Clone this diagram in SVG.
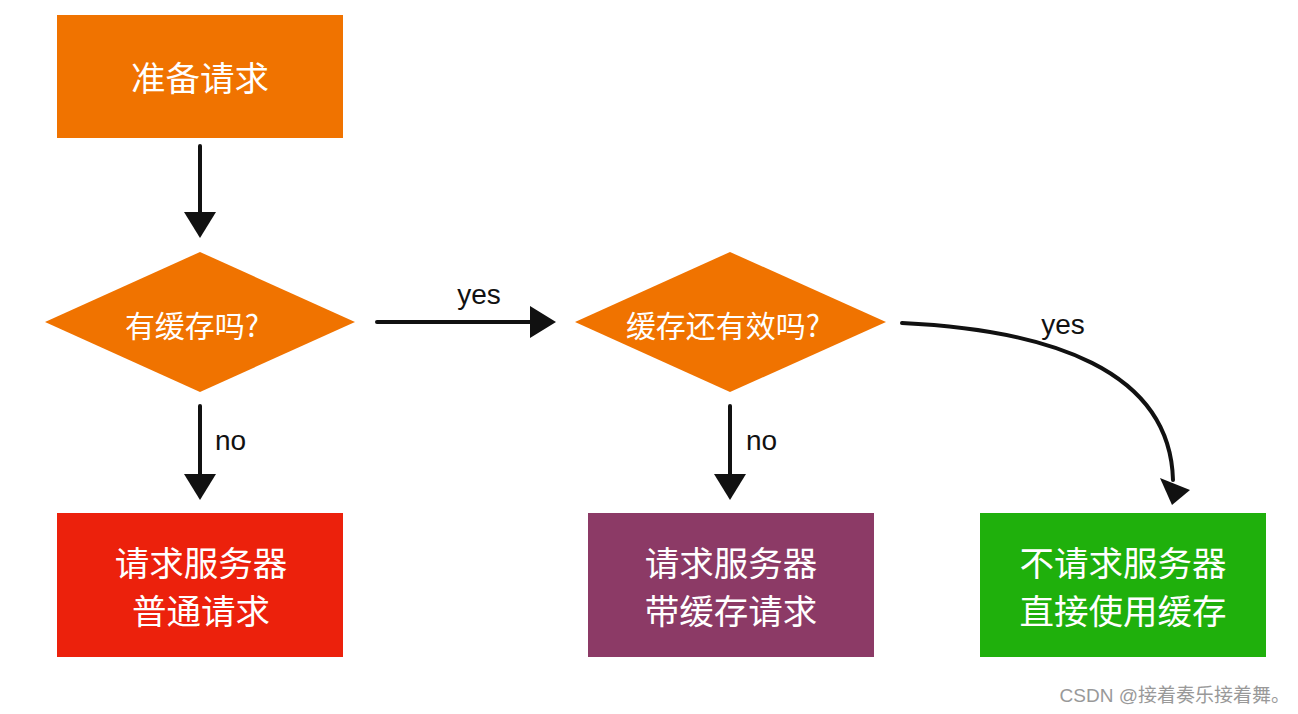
<svg xmlns="http://www.w3.org/2000/svg" width="1298" height="714" viewBox="0 0 1298 714">
<defs>
<style>
.box{stroke:none}
.t{font-family:"Noto Sans CJK SC","Noto Sans",sans-serif;fill:#fff;text-anchor:middle;dominant-baseline:central}
.bt{font-size:34.5px}
.dt{font-size:30px}
.lbl{font-family:"Liberation Sans",Arial,sans-serif;font-size:28px;fill:#111}
.c{fill:none;stroke:#111;stroke-width:4;stroke-linecap:round}
</style>
</defs>
<rect width="1298" height="714" fill="#fff"/>
<g id="connectors">
<path class="c" d="M200,146 V212"/>
<path d="M184,212 L216,212 L200,238 Z" fill="#111"/>
<path class="c" d="M377,322 H530"/>
<path d="M530,306 L556,322 L530,338 Z" fill="#111"/>
<path class="c" d="M902,323 C1050,330 1170,370 1173,480"/>
<path d="M1160,478 L1190,490 L1172,505 Z" fill="#111"/>
<path class="c" d="M200,406 V474"/>
<path d="M184,474 L216,474 L200,500 Z" fill="#111"/>
<path class="c" d="M730,406 V474"/>
<path d="M714,474 L746,474 L730,500 Z" fill="#111"/>
<text class="lbl" x="479" y="304" text-anchor="middle">yes</text>
<text class="lbl" x="1063" y="334" text-anchor="middle">yes</text>
<text class="lbl" x="215" y="450">no</text>
<text class="lbl" x="746" y="450">no</text>
</g>
<g id="n1">
<rect class="box" x="57" y="15" width="286" height="123" fill="#F07300"/>
<text class="t bt" x="200" y="76">准备请求</text>
</g>
<g id="d1">
<polygon points="45,322 200,252 355,322 200,392" fill="#F07300"/>
<text class="t dt" x="192" y="324">有缓存吗?</text>
</g>
<g id="d2">
<polygon points="575,322 730,252 886,322 730,392" fill="#F07300"/>
<text class="t dt" x="723" y="324">缓存还有效吗?</text>
</g>
<g id="n2">
<rect class="box" x="57" y="513" width="286" height="144" fill="#EC210C"/>
<text class="t bt" x="201" y="561">请求服务器</text>
<text class="t bt" x="201" y="609">普通请求</text>
</g>
<g id="n3">
<rect class="box" x="588" y="513" width="286" height="144" fill="#8C3A66"/>
<text class="t bt" x="731" y="561">请求服务器</text>
<text class="t bt" x="731" y="609">带缓存请求</text>
</g>
<g id="n4">
<rect class="box" x="980" y="513" width="286" height="144" fill="#1FB00C"/>
<text class="t bt" x="1123" y="561">不请求服务器</text>
<text class="t bt" x="1123" y="609">直接使用缓存</text>
</g>
<text x="1290" y="702" text-anchor="end" font-family="'Liberation Sans','Noto Sans CJK SC',sans-serif" font-size="19" fill="#999">CSDN @接着奏乐接着舞。</text>
</svg>
